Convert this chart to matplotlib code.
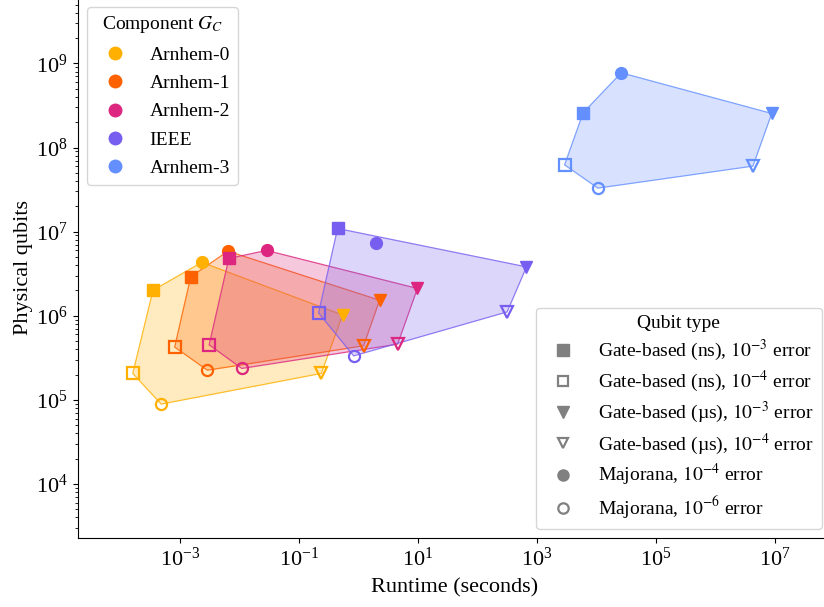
import numpy as np
import matplotlib
matplotlib.use("Agg")
import matplotlib.pyplot as plt
from matplotlib.lines import Line2D
from matplotlib.ticker import LogLocator, NullLocator

plt.rcParams['font.family'] = ['Liberation Serif', 'DejaVu Serif']
plt.rcParams['mathtext.fontset'] = 'stix'

# component names and colours
componentes = ['Arnhem-0', 'Arnhem-1', 'Arnhem-2', 'IEEE', 'Arnhem-3']
colores = ['#FFB000', '#FE6100', '#DC267F', '#785EF0', '#648FFF']

# qubit types, same order for every component
tipos = ['Gate-based (ns), $10^{-3}$ error',
         'Gate-based (ns), $10^{-4}$ error',
         'Gate-based (\u00b5s), $10^{-3}$ error',
         'Gate-based (\u00b5s), $10^{-4}$ error',
         'Majorana, $10^{-4}$ error',
         'Majorana, $10^{-6}$ error']
marcadores = ['s', 's', 'v', 'v', 'o', 'o']
relleno = [True, False, True, False, True, False]

# runtime (s) per component, order as in tipos
runtime_a0 = [3.5e-4, 1.6e-4, 0.54, 0.237, 2.32e-3, 4.8e-4]
runtime_a1 = [1.51e-3, 8.1e-4, 2.26, 1.22, 6.35e-3, 2.88e-3]
runtime_a2 = [6.6e-3, 3.08e-3, 9.8, 4.55, 2.84e-2, 1.09e-2]
runtime_ieee = [0.445, 0.213, 668, 316, 2.0, 0.83]
runtime_a3 = [6.0e3, 2.92e3, 8.9e6, 4.3e6, 2.62e4, 1.06e4]

# physical qubits per component
qubits_a0 = [2.01e6, 2.06e5, 1.02e6, 2.06e5, 4.31e6, 8.9e4]
qubits_a1 = [2.9e6, 4.24e5, 1.53e6, 4.39e5, 5.86e6, 2.25e5]
qubits_a2 = [4.8e6, 4.51e5, 2.11e6, 4.59e5, 5.98e6, 2.36e5]
qubits_ieee = [1.09e7, 1.08e6, 3.81e6, 1.11e6, 7.24e6, 3.33e5]
qubits_a3 = [2.59e8, 6.22e7, 2.54e8, 6.01e7, 7.73e8, 3.29e7]

runtimes = [runtime_a0, runtime_a1, runtime_a2, runtime_ieee, runtime_a3]
qubits = [qubits_a0, qubits_a1, qubits_a2, qubits_ieee, qubits_a3]


def envolvente(x, y):
    # convex hull in log space (monotone chain)
    pts = sorted(zip(np.log10(x), np.log10(y)))

    def cruz(o, a, b):
        return (a[0] - o[0]) * (b[1] - o[1]) - (a[1] - o[1]) * (b[0] - o[0])

    inf, sup = [], []
    for p in pts:
        while len(inf) >= 2 and cruz(inf[-2], inf[-1], p) <= 0:
            inf.pop()
        inf.append(p)
    for p in reversed(pts):
        while len(sup) >= 2 and cruz(sup[-2], sup[-1], p) <= 0:
            sup.pop()
        sup.append(p)
    h = np.array(inf[:-1] + sup[:-1])
    return 10 ** h[:, 0], 10 ** h[:, 1]


fig = plt.figure(figsize=(8.24, 6.07), dpi=100)
ax = fig.add_axes([0.0943, 0.1132, 0.9145, 0.8918])

for comp, col, xs, ys in zip(componentes, colores, runtimes, qubits):
    hx, hy = envolvente(xs, ys)
    ax.fill(hx, hy, facecolor=col, alpha=0.25, edgecolor='none')
    ax.fill(hx, hy, facecolor='none', edgecolor=col, alpha=0.8, lw=0.9)
    for x, y, m, f in zip(xs, ys, marcadores, relleno):
        if f:
            ax.plot(x, y, m, color=col, ms=8.5, mec=col)
        else:
            ax.plot(x, y, m, mfc='none', mec=col, ms=8, mew=1.6)

ax.set_xscale('log')
ax.set_yscale('log')
ax.set_xlim(10 ** -4.722, 10 ** 7.95)
ax.set_ylim(10 ** 3.354, 10 ** 9.79)
ax.set_xticks([10.0 ** e for e in range(-3, 8, 2)])
ax.xaxis.set_minor_locator(NullLocator())
ax.set_yticks([10.0 ** e for e in range(4, 10)])
ax.yaxis.set_minor_locator(LogLocator(base=10, subs=np.arange(2, 10), numticks=20))
ax.yaxis.set_minor_formatter(plt.NullFormatter())
ax.tick_params(labelsize=16)
ax.spines['top'].set_visible(False)
ax.spines['right'].set_visible(False)

ax.set_xlabel('Runtime (seconds)', fontsize=16, labelpad=5)
ax.set_ylabel('Physical qubits', fontsize=16, labelpad=2)

h1 = [Line2D([], [], marker='o', ls='none', color=c, ms=9) for c in colores]
leg1 = ax.legend(h1, componentes, title='Component $G_C$', loc='upper left',
                 fontsize=14, title_fontsize=14, labelspacing=0.55)
ax.add_artist(leg1)

h2 = []
for m, f in zip(marcadores, relleno):
    if f:
        h2.append(Line2D([], [], marker=m, ls='none', color='grey', ms=8))
    else:
        h2.append(Line2D([], [], marker=m, ls='none', mfc='none', mec='grey', ms=7.5, mew=1.6))
ax.legend(h2, tipos, title='Qubit type', loc='lower right', fontsize=14,
          title_fontsize=14, labelspacing=0.3)

fig.savefig('out.png', dpi=100)
